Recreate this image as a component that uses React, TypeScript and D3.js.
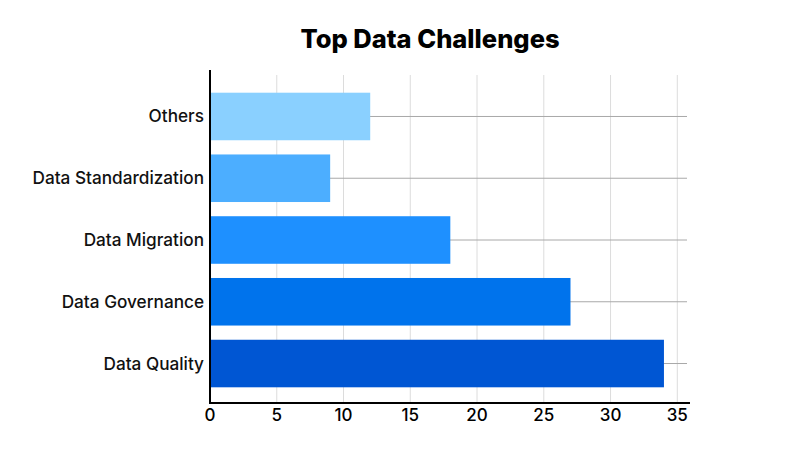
import React from "react";
import * as d3 from "d3";

const categories = ["Others", "Data Standardization", "Data Migration", "Data Governance", "Data Quality"];
const values = [12, 9, 18, 27, 34];
const barColors = ["#8ad0ff", "#4caeff", "#1e90ff", "#0073ec", "#0056d3"];
const xTicks = [0, 5, 10, 15, 20, 25, 30, 35];
const title = "Top Data Challenges";

const W = 800;
const H = 459;
const x0 = 210;
const x1 = 677.3;
const axisBottom = 403;
const font = "Inter, 'Noto Sans', sans-serif";

export default function App() {
  const x = d3.scaleLinear().domain([0, 35]).range([x0, x1]);
  const y = d3
    .scaleBand<string>()
    .domain(categories)
    .range([78, 402])
    .paddingInner(0.23)
    .paddingOuter(0.238);
  const bw = y.bandwidth();

  return (
    <svg
      width={W}
      height={H}
      style={{ position: "absolute", left: 0, top: 0, background: "#fff" }}
      fontFamily={font}
    >
      <rect x={0} y={0} width={W} height={H} fill="#fff" />
      <text x={430} y={48} textAnchor="middle" fontSize={25.5} fontWeight={800} fill="#000">
        {title}
      </text>
      {/* vertical grid */}
      {xTicks.slice(1).map((t) => (
        <line key={"vg" + t} x1={x(t)} x2={x(t)} y1={75} y2={axisBottom} stroke="#dcdcdc" strokeWidth={1} />
      ))}
      {/* horizontal grid at band centers */}
      {categories.map((c) => (
        <line
          key={"hg" + c}
          x1={x0}
          x2={687}
          y1={(y(c) as number) + bw / 2}
          y2={(y(c) as number) + bw / 2}
          stroke="#a8a8a8"
          strokeWidth={1}
        />
      ))}
      {/* bars */}
      {categories.map((c, i) => (
        <rect
          key={"b" + c}
          x={x(0)}
          y={y(c) as number}
          width={x(values[i]) - x(0)}
          height={bw}
          fill={barColors[i]}
        />
      ))}
      {/* category labels */}
      {categories.map((c) => (
        <text
          key={"l" + c}
          x={204}
          y={(y(c) as number) + bw / 2}
          dy="0.35em"
          textAnchor="end"
          fontSize={17.2}
          fontWeight={500}
          fill="#111"
        >
          {c}
        </text>
      ))}
      {/* axes */}
      <line x1={x0} x2={x0} y1={70} y2={axisBottom + 1} stroke="#000" strokeWidth={2} />
      <line x1={x0 - 1} x2={690} y1={axisBottom} y2={axisBottom} stroke="#000" strokeWidth={2} />
      {xTicks.map((t) => (
        <text key={"t" + t} x={x(t)} y={421} textAnchor="middle" fontSize={17} fontWeight={500} fill="#000">
          {t}
        </text>
      ))}
    </svg>
  );
}
